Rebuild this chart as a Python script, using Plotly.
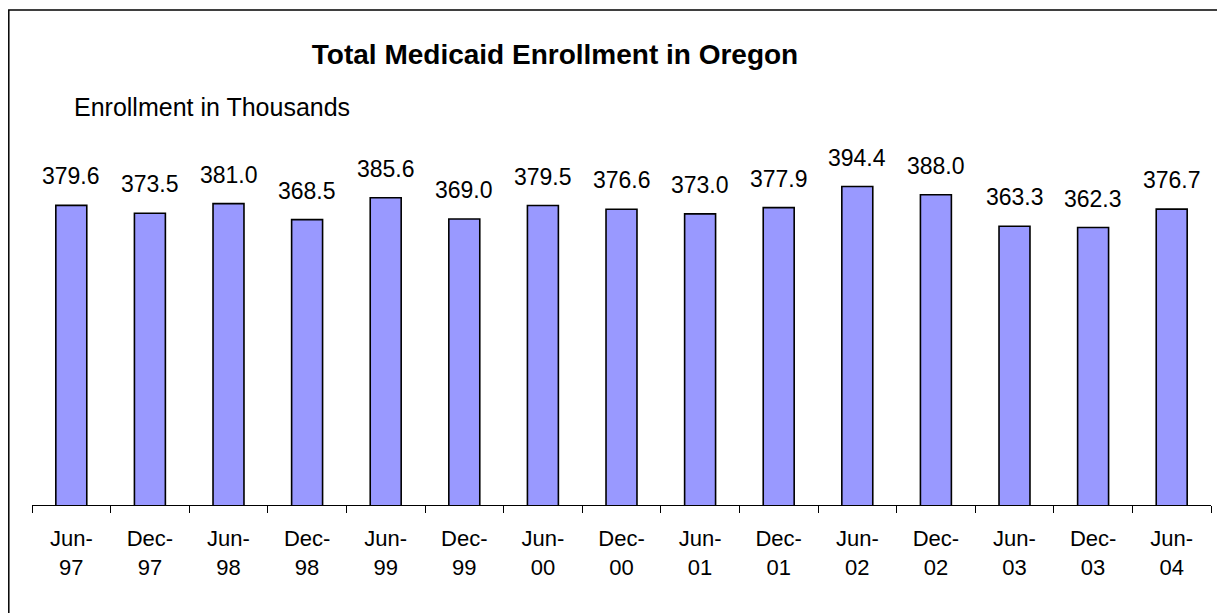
import plotly.graph_objects as go

categories = ["Jun-97", "Dec-97", "Jun-98", "Dec-98", "Jun-99", "Dec-99", "Jun-00", "Dec-00",
              "Jun-01", "Dec-01", "Jun-02", "Dec-02", "Jun-03", "Dec-03", "Jun-04"]
tick_labels = ["Jun-<br>97", "Dec-<br>97", "Jun-<br>98", "Dec-<br>98", "Jun-<br>99", "Dec-<br>99",
               "Jun-<br>00", "Dec-<br>00", "Jun-<br>01", "Dec-<br>01", "Jun-<br>02", "Dec-<br>02",
               "Jun-<br>03", "Dec-<br>03", "Jun-<br>04"]
enrollment = [379.6, 373.5, 381.0, 368.5, 385.6, 369.0, 379.5, 376.6,
              373.0, 377.9, 394.4, 388.0, 363.3, 362.3, 376.7]

# the page body adds an 8px offset; figure sized so the page does not overflow
W, H = 1217, 605
L, R, T, B = 24, 14, 92, 108
pw, ph = W - L - R, H - T - B

def px_x(p):
    return (p - L) / pw

def px_y(p):
    return (H - B - p) / ph

FONT = "Liberation Sans, Arial, sans-serif"

fig = go.Figure()
fig.add_trace(go.Bar(
    x=categories, y=enrollment,
    marker=dict(color="#9999FF", line=dict(color="black", width=1.6)),
    hoverinfo="x+y",
))

for c, v in zip(categories, enrollment):
    fig.add_annotation(x=c, y=v, text=f"{v:.1f}", showarrow=False,
                       yanchor="middle", yshift=29,
                       font=dict(family=FONT, size=23, color="black"))

fig.add_annotation(xref="paper", yref="paper", x=px_x(64), y=px_y(98.5),
                   text="Enrollment in Thousands", showarrow=False,
                   xanchor="left", yanchor="middle",
                   font=dict(family=FONT, size=25, color="black"))

fig.add_shape(type="rect", xref="paper", yref="paper",
              x0=px_x(0.8), x1=px_x(1260), y0=px_y(640), y1=px_y(2),
              line=dict(color="black", width=1.5), fillcolor="rgba(0,0,0,0)")

fig.update_layout(
    width=W, height=H,
    margin=dict(l=L, r=R, t=T, b=B, pad=0),
    paper_bgcolor="white", plot_bgcolor="white",
    bargap=0.606,
    showlegend=False,
    title=dict(text="<b>Total Medicaid Enrollment in Oregon</b>",
               x=547 / W, y=1 - 46 / H, xanchor="center", yanchor="middle",
               font=dict(family=FONT, size=28, color="black")),
    xaxis=dict(type="category", tickmode="array", tickvals=categories, ticktext=tick_labels,
               tickson="boundaries", ticks="outside", ticklen=7, tickwidth=1, tickcolor="black",
               showline=True, linecolor="black", linewidth=1, showgrid=False,
               tickfont=dict(family=FONT, size=22, color="black"), ticklabelstandoff=14),
    yaxis=dict(visible=False, range=[145, 145 + ph / 1.277], showgrid=False, zeroline=False),
)

fig.write_html("out.html")
